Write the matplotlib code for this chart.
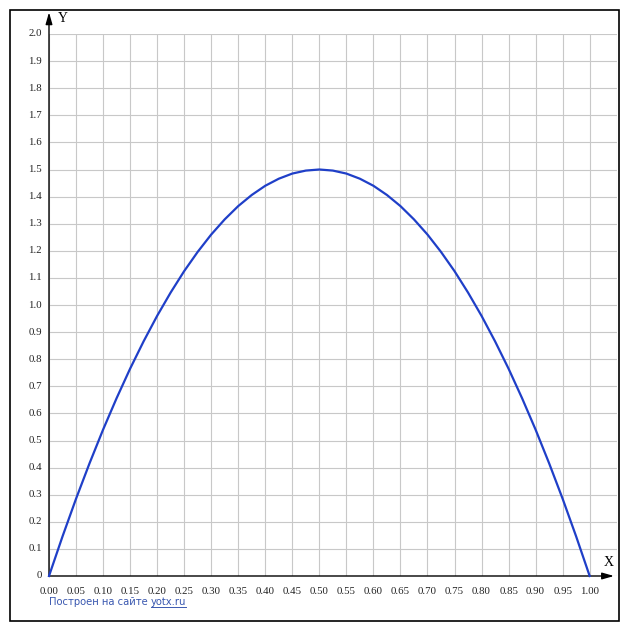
import matplotlib.pyplot as plt
from matplotlib.patches import Rectangle
from matplotlib.lines import Line2D

# curve values (step 0.025)
xs = [0.0, 0.025, 0.05, 0.075, 0.1, 0.125, 0.15, 0.175, 0.2, 0.225, 0.25,
      0.275, 0.3, 0.325, 0.35, 0.375, 0.4, 0.425, 0.45, 0.475, 0.5,
      0.525, 0.55, 0.575, 0.6, 0.625, 0.65, 0.675, 0.7, 0.725, 0.75,
      0.775, 0.8, 0.825, 0.85, 0.875, 0.9, 0.925, 0.95, 0.975, 1.0]
ys = [0.0, 0.146, 0.285, 0.416, 0.54, 0.656, 0.765, 0.866, 0.96, 1.046, 1.125,
      1.196, 1.26, 1.316, 1.365, 1.406, 1.44, 1.466, 1.485, 1.496, 1.5,
      1.496, 1.485, 1.466, 1.44, 1.406, 1.365, 1.316, 1.26, 1.196, 1.125,
      1.046, 0.96, 0.866, 0.765, 0.656, 0.54, 0.416, 0.285, 0.146, 0.0]

xticks = [i * 0.05 for i in range(21)]
xticklabels = ['%.2f' % v for v in xticks]
yticks = [i * 0.1 for i in range(21)]
yticklabels = ['0'] + ['%.1f' % v for v in yticks[1:]]

W, H = 627, 630
fig = plt.figure(figsize=(W / 100, H / 100), dpi=100)

# outer frame
fig.patches.append(Rectangle((9.5 / W, (H - 620.5) / H), 609 / W, 611 / H,
                             transform=fig.transFigure, fill=False,
                             edgecolor='black', linewidth=1.2))

ax = fig.add_axes([49 / W, 54 / H, 567.7 / W, 542 / H])
ax.set_xlim(0, 1.05)
ax.set_ylim(0, 2.0)
for s in ax.spines.values():
    s.set_visible(False)

# grid
for v in xticks + [1.05]:
    ax.axvline(v, color='#c8c8c8', lw=0.8, zorder=0)
for v in yticks:
    ax.axhline(v, color='#c8c8c8', lw=0.8, zorder=0)

ax.set_xticks([])
ax.set_yticks([])

tfont = dict(family='Liberation Serif', size=7.8, color='#222222')
for v, lab in zip(xticks, xticklabels):
    ax.text(v, -0.057, lab, ha='center', va='center', **tfont)
for v, lab in zip(yticks, yticklabels):
    ax.text(-0.013, v, lab, ha='right', va='center', **tfont)

# axes with arrows
ax.annotate('', xy=(1.045, 0), xytext=(0, 0), annotation_clip=False,
            arrowprops=dict(arrowstyle='-|>,head_length=0.7,head_width=0.2',
                            color='black', lw=1, shrinkA=0, shrinkB=0))
ax.annotate('', xy=(0, 2.08), xytext=(0, 0), annotation_clip=False,
            arrowprops=dict(arrowstyle='-|>,head_length=0.7,head_width=0.2',
                            color='black', lw=1, shrinkA=0, shrinkB=0))
ax.text(1.035, 0.05, 'X', family='Liberation Serif', size=10, ha='center', va='center')
ax.text(0.026, 2.058, 'Y', family='Liberation Serif', size=10, ha='center', va='center')

ax.plot(xs, ys, color='#1f3fc8', lw=1.6, zorder=3, clip_on=False)

# footer
fcol = '#3a58b0'
t1 = fig.text(49 / W, (H - 602) / H, 'Построен на сайте ', family='DejaVu Sans',
              size=7.2, color=fcol, va='center', ha='left')
fig.canvas.draw()
r = fig.canvas.get_renderer()
bb = t1.get_window_extent(r)
t2 = fig.text(bb.x1 / W, (H - 602) / H, 'yotx.ru', family='DejaVu Sans',
              size=7.2, color=fcol, va='center', ha='left')
fig.canvas.draw()
bb2 = t2.get_window_extent(r)
fig.lines.append(Line2D([bb2.x0 / W, bb2.x1 / W], [(bb2.y0 + 0.5) / H] * 2,
                        transform=fig.transFigure, color=fcol, lw=0.7))

fig.savefig('out.png', dpi=100)
